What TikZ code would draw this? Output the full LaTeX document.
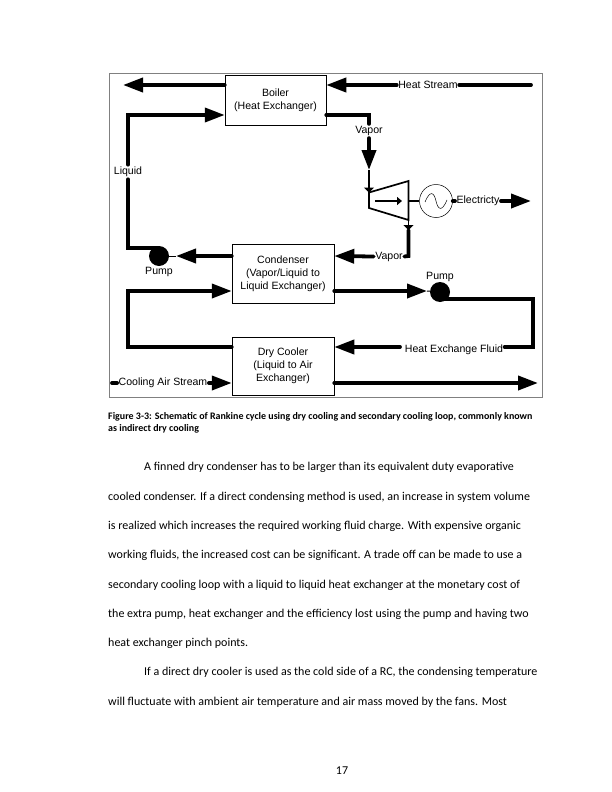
\documentclass[tikz,border=0pt]{standalone}
\usepackage{fontspec}
\setmainfont{Carlito}
\newfontfamily\figfont{Liberation Sans}
\usetikzlibrary{arrows.meta}

\begin{document}
\begin{tikzpicture}[
    x=1bp, y=-1bp,
    unitbox/.style={shape=rectangle, draw=black, line width=0.5pt, inner sep=0pt, align=center, font=\figfont\fontsize{10.6}{13}\selectfont, execute at begin node={\rule{0pt}{12bp}}},
    flowlabel/.style={fill=white, inner xsep=1.4pt, inner ysep=2.2pt, font=\figfont\fontsize{10.6}{12}\selectfont},
    pumpdot/.style={shape=circle, fill=black, minimum size=20bp, inner sep=0pt},
    flow/.style={line width=3.8pt, line cap=round, -{Triangle[length=20bp, width=14bp]}},
    stream/.style={line width=3.8pt, line cap=round},
    thinflow/.style={line width=1.9pt, -{Triangle[length=5bp, width=10bp]}},
    bodyline/.style={anchor=base west, inner sep=0pt, font=\fontsize{12.05}{14}\selectfont},
    capline/.style={anchor=base west, inner sep=0pt, font=\bfseries\fontsize{10}{12}\selectfont},
]
\useasboundingbox (0,0) rectangle (612,792);
\fill[white] (0,0) rectangle (612,792);

% frame
\draw[draw=black!50, line width=0.8pt] (109,73) rectangle (542,397);

\node[unitbox, minimum width=101bp, minimum height=50bp] (boiler) at (275.5,100) {Boiler\\(Heat Exchanger)};
\node[unitbox, minimum width=102bp, minimum height=59bp] (condenser) at (283,273.5) {Condenser\\(Vapor/Liquid to\\Liquid Exchanger)};
\node[unitbox, minimum width=102bp, minimum height=58bp] (cooler) at (283,366) {Dry Cooler\\(Liquid to Air\\Exchanger)};
\node[pumpdot] (pumpa) at (159,256) {};
\node[pumpdot] (pumpb) at (440,292) {};
\node[shape=circle, draw=black, line width=0.5pt, minimum size=33bp, inner sep=0pt] (gen) at (436,201) {};

\node[flowlabel] (liquid) at (128,172) {Liquid};
\node[flowlabel] (vapora) at (369,131) {Vapor};
\node[flowlabel] (heat) at (428,85) {Heat Stream};
\node[flowlabel] (vaporb) at (389,256.5) {Vapor};
\node[flowlabel] (fluid) at (454,350) {Heat Exchange Fluid};
\node[flowlabel] (air) at (163,383) {Cooling Air Stream};
\node[flowlabel] (elec) at (478,201) {Electricty};
\node[flowlabel, fill=none] (pumplaba) at (159,271.5) {Pump};
\node[flowlabel, fill=none] (pumplabb) at (440,277) {Pump};

% turbine
\coordinate (tnw) at (369,192.5);
\coordinate (tsw) at (369,208);
\coordinate (tne) at (408.5,181);
\coordinate (tse) at (408.5,220);
\coordinate (tin) at (375,201);
\coordinate (tout) at (402,201);
\draw[line width=1.7pt] (tnw) -- (tne) -- (tse) -- (tsw) -- cycle;
\draw[line width=1.6pt, -{Triangle[length=5bp, width=8bp]}] (tin) -- (tout);
\draw[shift={(gen.center)}, line width=0.5pt] (-11,1) .. controls (-6,-11) and (-2,-9) .. (0,0) .. controls (2,9) and (6,11) .. (11,-1);

% free ends and corners
\coordinate (hs) at (531,85);
\coordinate (oa) at (123,85);
\coordinate (la) at (128,115);
\coordinate (lb) at (128,248);
\coordinate (lc) at (128,291);
\coordinate (ld) at (128,347);
\coordinate (va) at (369,115);
\coordinate (vc) at (369,170);
\coordinate (vd) at (408.5,256);
\coordinate (ve) at (408.5,230);
\coordinate (ea) at (531,201);
\coordinate (fa) at (533,299);
\coordinate (fb) at (533,347);
\coordinate (fg) at (400,347);
\coordinate (ca) at (112,383);
\coordinate (ob) at (538,383);
\coordinate (tipa) at (176,256);
\coordinate (tipb) at (427,291);

\draw[flow] (boiler.west |- oa) -- (oa);
\draw[flow] (heat.west) -- (boiler.east |- hs);
\draw[stream] (heat.east) -- (hs);

\draw[flow] (liquid.north) -- (la) -- (boiler.west |- la);
\draw[stream] (liquid.south) -- (lb) -- (pumpa |- lb);
\draw[flow] (condenser.west |- pumpa) -- (tipa);
\draw[line width=1pt] (tipa) -- (pumpa);

\draw[stream] (boiler.east |- va) -- (va) -- (vapora.north);
\draw[flow] (vapora.south) -- (vc);
\draw[thinflow] (vc) -- (tnw);

\draw[line width=2.2pt] (tne |- gen) -- (gen.west);
\draw[stream] (gen.east) -- (elec.west);
\draw[flow] (elec.east) -- (ea);

\draw[thinflow] (tse) -- (ve);
\draw[stream] (ve) -- (vd) -- (vaporb.east);
\draw[flow] (vaporb.west) -- (condenser.east |- vd);

\draw[flow] (cooler.west |- ld) -- (ld) -- (lc) -- (condenser.west |- lc);
\draw[flow] (condenser.east |- tipb) -- (tipb);
\draw[line width=1pt] (tipb) -- (pumpb);
\draw[stream] (pumpb |- fa) -- (fa) -- (fb) -- (fluid.east |- fb);
\draw[flow] (fg) -- (cooler.east |- fb);

\draw[stream] (ca) -- (air.west);
\draw[flow] (air.east) -- (cooler.west |- air);
\draw[flow] (cooler.east |- air) -- (ob);

% caption and page text
\node[capline] (capa) at (108,419) {Figure 3-3: Schematic of Rankine cycle using dry cooling and secondary cooling loop, commonly known};
\node[capline] (capb) at (108,431) {as indirect dry cooling};
\node[bodyline] (parone) at (144,470) {A finned dry condenser has to be larger than its equivalent duty evaporative};
\node[bodyline] (partwo) at (108,500) {cooled condenser. If a direct condensing method is used, an increase in system volume};
\node[bodyline] (parthree) at (108,529) {is realized which increases the required working fluid charge. With expensive organic};
\node[bodyline] (parfour) at (108,558) {working fluids, the increased cost can be significant. A trade off can be made to use a};
\node[bodyline] (parfive) at (108,588) {secondary cooling loop with a liquid to liquid heat exchanger at the monetary cost of};
\node[bodyline] (parsix) at (108,617) {the extra pump, heat exchanger and the efficiency lost using the pump and having two};
\node[bodyline] (parseven) at (108,646) {heat exchanger pinch points.};
\node[bodyline] (pareight) at (144,675) {If a direct dry cooler is used as the cold side of a RC, the condensing temperature};
\node[bodyline] (parnine) at (108,705) {will fluctuate with ambient air temperature and air mass moved by the fans. Most};
\node[bodyline, anchor=base] (pagenum) at (342,774) {17};
\end{tikzpicture}
\end{document}
